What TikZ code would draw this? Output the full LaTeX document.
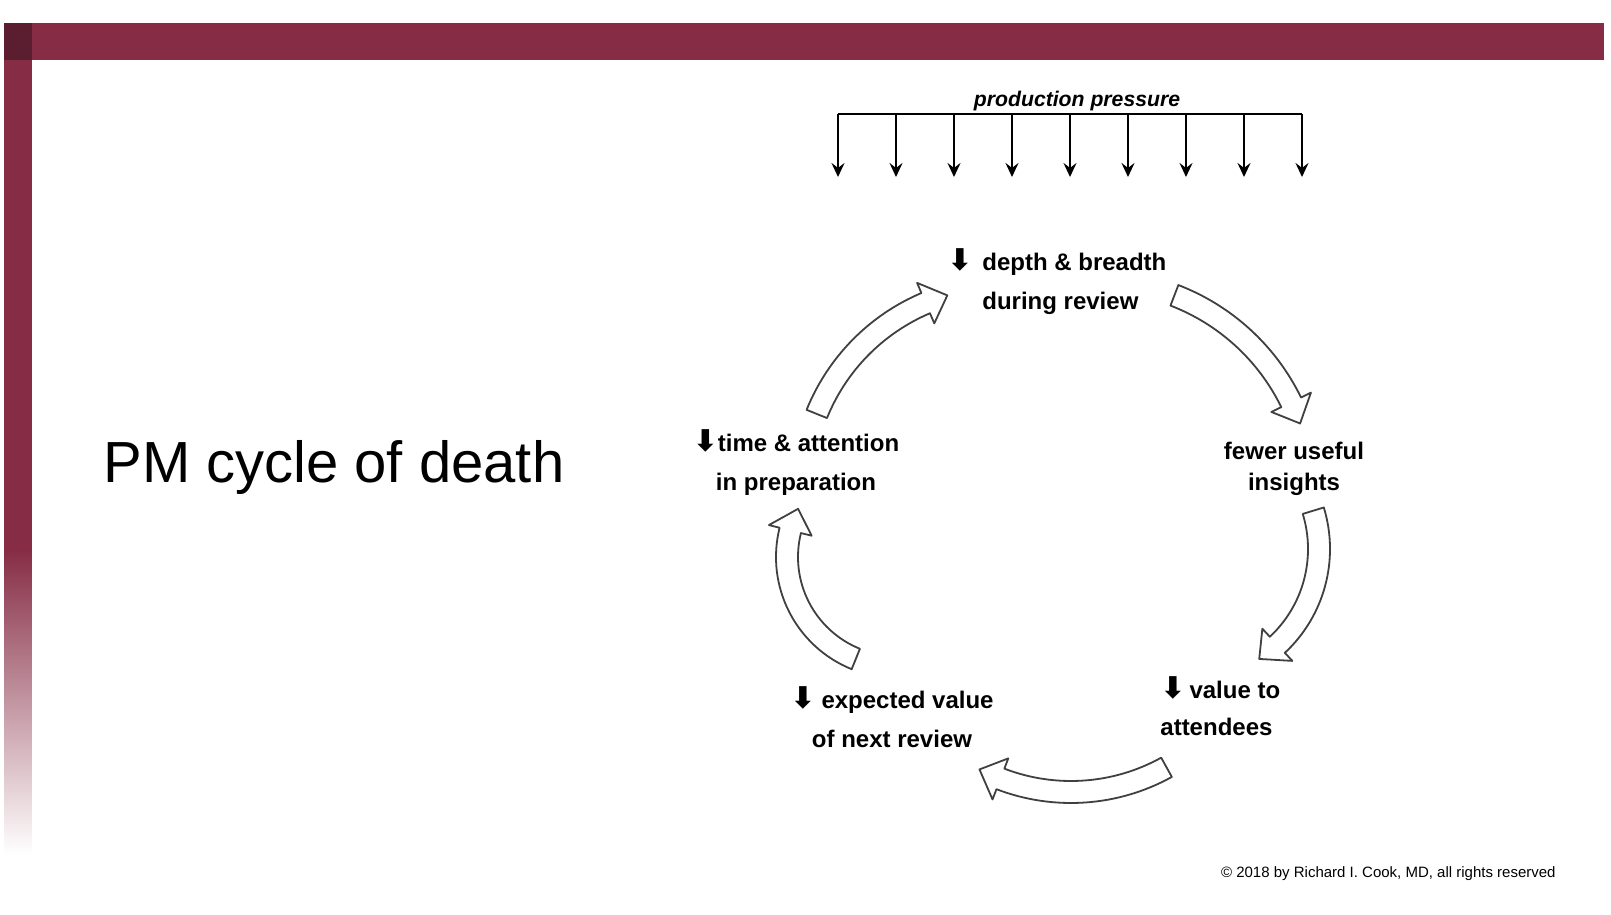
\documentclass[tikz,border=0pt]{standalone}
\usepackage{fontspec}
\setmainfont{Liberation Sans}
\newfontfamily\arrowfont{DejaVu Sans}
\usepackage{tikz}
\usetikzlibrary{arrows.meta,positioning,calc}
\definecolor{barred}{HTML}{862D45}
\definecolor{bardark}{HTML}{5B1E30}
\newcommand{\dn}{{\arrowfont\fontsize{15}{15}\selectfont ⬇}}
% curved block arrow: centre x, centre y, radius, start angle, end angle
\newcommand{\cyclearrow}[5]{%
  \pgfmathsetmacro{\tipangle}{#5-23*57.2958/#3}
  \begin{scope}[shift={(#1,#2)}]
    \draw[cyclearrow] (#4:{(#3+11)*0.5pt})
      arc[start angle=#4, end angle=#5, radius={(#3+11)*0.5pt}]
      -- (#5:{(#3+22)*0.5pt}) -- (\tipangle:{#3*0.5pt})
      -- (#5:{(#3-22)*0.5pt}) -- (#5:{(#3-11)*0.5pt})
      arc[start angle=#5, end angle=#4, radius={(#3-11)*0.5pt}] -- cycle;
  \end{scope}}
\tikzset{
  cyclearrow/.style={draw=black!75, line width=0.9pt, fill=white, line join=round},
  steplabel/.style={font=\fontsize{12}{19.5}\selectfont\bfseries, inner sep=0pt},
  pressure/.style={line width=1.1pt, -{Stealth[length=7pt,width=6.5pt,inset=2.5pt]}},
}

\begin{document}
\begin{tikzpicture}[x=0.5pt,y=0.5pt]
        \useasboundingbox (0,0) rectangle (1611,915);
        % Slide frame
        \fill[barred] (4,855) rectangle (1604,892);
        \fill[bardark] (4,855) rectangle (31.7,892);
        \fill[barred] (4,365) rectangle (31.7,855);
        \shade[top color=barred, bottom color=white] (4,60) rectangle (31.7,365);
        \node[anchor=base west, font=\fontsize{29}{35}\selectfont, inner sep=0pt] (title) at (103,432) {PM cycle of death};

        % Production pressure
        \node[font=\fontsize{10.6}{12}\selectfont\bfseries\itshape, inner sep=0pt] (pressure) at (1077,814) {production pressure};
        \coordinate (ppleft) at (838,801);
        \coordinate (ppright) at (1302,801);
        \draw[line width=1.1pt] (ppleft) -- (ppright);
        \foreach \i in {0,...,8}
            \draw[pressure] ($(ppleft)!\i/8!(ppright)$) -- ++(0,-63);

        % Cycle steps
        \node[steplabel, align=left, anchor=west] (depth) at (982,633) {\llap{\dn\hspace{5pt}}depth \& breadth\\during review};
        \node[steplabel, align=center, font=\fontsize{12}{15.5}\selectfont\bfseries] (insights) at (1294,446) {fewer useful\\insights};
        \node[steplabel, align=left, anchor=west, font=\fontsize{12}{18.5}\selectfont\bfseries] (value) at (1160,209) {\dn\hspace{2pt}value to\\attendees};
        \node[steplabel, align=center] (expected) at (892,198) {\dn\hspace{3pt}expected value\\of next review};
        \node[steplabel, align=center] (attention) at (796,452) {\dn\hspace{0pt}time \& attention\\in preparation};

        % Cycle arrows
        \cyclearrow{1005}{425}{203}{158}{113}
        \cyclearrow{1097}{418}{216}{69}{26}
        \cyclearrow{1188}{366}{131}{17}{-47}
        \cyclearrow{1071}{320}{197}{-61}{-111}
        \cyclearrow{897}{358}{110}{248}{166}

        \node[anchor=base east, font=\fontsize{7.5}{9}\selectfont, inner sep=0pt] (copyright) at (1556,37) {© 2018 by Richard I. Cook, MD, all rights reserved};
    \end{tikzpicture}
\end{document}
